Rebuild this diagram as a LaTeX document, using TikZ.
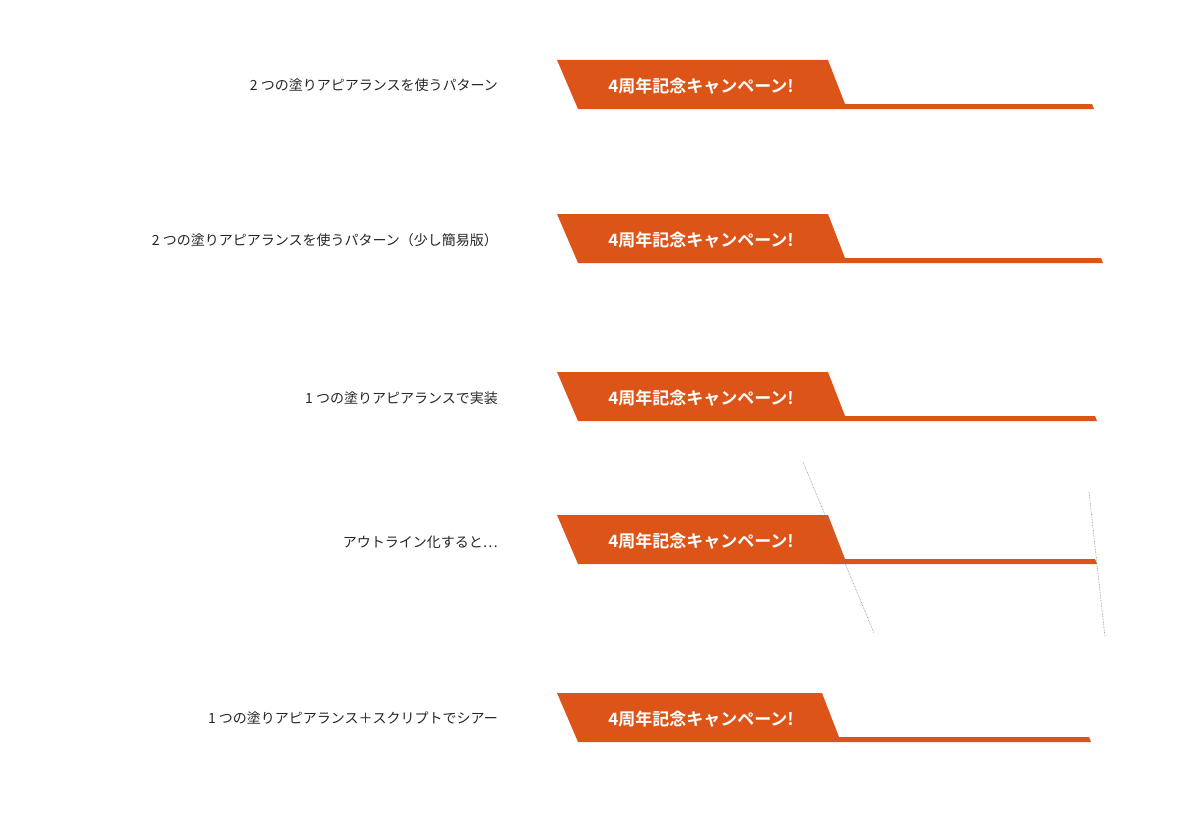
\documentclass[tikz,border=0pt]{standalone}
\usepackage{fontspec}
\newfontfamily\cjk{Noto Sans CJK JP}
\newfontfamily\cjkb{Noto Sans CJK JP Bold}
\definecolor{ban}{HTML}{DC5418}
\tikzset{lbl/.style={anchor=east,font=\cjk\fontsize{14}{16}\selectfont,text=black!85,inner sep=0pt},
 btxt/.style={font=\cjkb\fontsize{17}{19}\selectfont,text=white,inner sep=0pt},
 guide/.style={densely dotted,gray,line width=0.6pt}}
\newcommand{\banner}[4]{% top y, top-right x, line end x, name
 \fill[ban] (557,#1) -- (#2,#1) -- ({#2+17},{#1+44}) -- (#3,{#1+44}) -- ({#3+2},{#1+49}) -- (578,{#1+49}) -- cycle;
 \node[btxt] (#4) at (701,{#1+26}) {4周年記念キャンペーン!};}
\begin{document}
\begin{tikzpicture}[x=1pt,y=-1pt]
\useasboundingbox (0,0) rectangle (1200,816);
\banner{60}{828}{1092}{b1}
\banner{214}{828}{1101}{b2}
\banner{372}{828}{1095}{b3}
\banner{515}{828}{1095}{b4}
\banner{693}{822}{1089}{b5}
\node[lbl] (l1) at (498,85) {\textit{2} つの塗りアピアランスを使うパターン};
\node[lbl] (l2) at (498,240) {\textit{2} つの塗りアピアランスを使うパターン（少し簡易版）};
\node[lbl] (l3) at (498,398) {\textit{1} つの塗りアピアランスで実装};
\node[lbl] (l4) at (498,542) {アウトライン化すると…};
\node[lbl] (l5) at (498,718) {\textit{1} つの塗りアピアランス＋スクリプトでシアー};
\coordinate (g1a) at (803,462); \coordinate (g1b) at (874,633);
\coordinate (g2a) at (1089,492); \coordinate (g2b) at (1105,637);
\draw[guide] (g1a) -- (g1b);
\draw[guide] (g2a) -- (g2b);
\end{tikzpicture}
\end{document}
